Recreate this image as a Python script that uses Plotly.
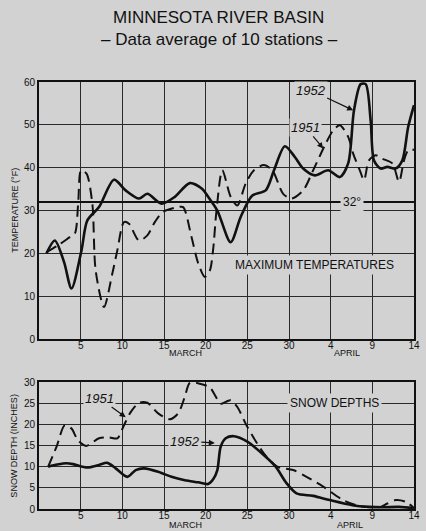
import plotly.graph_objects as go

# ---------------- data ----------------
# x = day counted from 1 March (March 31 = 31, April 4 = 35, April 14 = 45)
temp1952_days = [0.9, 1.9, 3.0, 3.9, 5.1, 5.8, 7.2, 9.0, 10.4, 12.0, 13.0, 14.7, 16.3, 18.1, 19.6, 20.3,
                 21.4, 23.0, 24.2, 25.6, 27.2, 28.2, 29.5, 30.7, 31.7, 33.1, 34.7, 36.1, 37.1, 37.8,
                 38.6, 39.2, 39.8, 40.2, 41.0, 41.8, 42.8, 43.6, 44.3, 45.0]
temp1952 = [20, 23, 18, 11.8, 20.7, 27.7, 30.8, 37.2, 34.7, 32.8, 33.9, 31.6, 33.2, 36.4, 35, 33.2,
            30, 22.6, 28.5, 33.5, 34.7, 39.4, 45, 42.5, 39.8, 38.2, 39.4, 37.8, 41, 53.4,
            59.5, 59.5, 51, 41.7, 39.8, 40.2, 39.8, 41.7, 49.5, 54.6]

temp1951_days = [0.9, 2.3, 3.7, 4.3, 4.7, 5.06, 5.7, 6.4, 6.8, 7.8, 8.8, 9.4, 10.2, 10.8, 12.0, 13.0,
                 13.9, 14.9, 16.7, 17.3, 18.3, 19.1, 19.9, 20.5, 20.9, 21.3, 22.0, 23.0, 23.8, 24.8,
                 25.8, 27.0, 28.0, 29.3, 30.3, 31.7, 32.9, 34.3, 35.3, 36.1, 37.1, 37.7, 38.5, 39.0,
                 39.6, 40.4, 41.2, 42.4, 43.2, 43.8, 44.3, 45.0]
temp1951 = [20.3, 21.9, 23.8, 24.6, 31.6, 39.4, 38.6, 31.6, 16, 7.5, 15.3, 20.7, 27.3, 26.9, 23, 24.2,
            27.3, 29.7, 30.8, 30.8, 23.8, 17.7, 14.5, 16, 21, 30, 39.4, 33.2, 31.2, 36.3,
            39.4, 40.6, 39.4, 33.9, 32.8, 34.7, 39.4, 45.2, 48.7, 49.9, 47.2, 43.3, 39.4, 37.1,
            41.7, 42.9, 42.1, 41, 36.7, 41.7, 44, 44.2]

snow1952_days = [1.1, 2.2, 3.3, 4.1, 5.8, 7.2, 8.2, 9.2, 10.6, 11.6, 12.6, 14.3, 15.9, 17.5, 19.1, 20.3,
                 20.9, 21.4, 21.8, 22.4, 23.4, 25.0, 27.0, 28.4, 29.7, 30.9, 32.9, 34.9, 37.6, 39.6,
                 41.2, 43.2, 45.0]
snow1952 = [10, 10.5, 10.8, 10.6, 9.8, 10.4, 10.9, 9.6, 7.6, 9.2, 9.6, 8.8, 7.6, 6.8, 6.3, 5.9,
            7, 9.2, 14.7, 16.7, 17.2, 15.9, 12.7, 10, 6.1, 3.7, 3.1, 2.1, 0.9, 0.5,
            0.4, 0.5, 0.2]

snow1951_days = [1.1, 2.1, 3.1, 3.9, 4.65, 5.65, 7.2, 8.4, 9.4, 10.2, 11.0, 12.0, 13.0, 14.3, 15.7, 16.7,
                 17.5, 18.1, 19.3, 20.5, 21.8, 22.4, 23.0, 23.8, 25.0, 27.0, 28.6, 30.5, 32.1, 34.1,
                 36.5, 38.4, 40.0, 41.0, 41.8, 42.8, 44.0, 44.9]
snow1951 = [10, 14.7, 19.8, 19, 16.3, 14.9, 16.7, 16.9, 16.7, 19.8, 22.9, 25.1, 25.1, 22.6, 21.2, 22.6,
            26.5, 29.8, 29.6, 28.7, 24.9, 25.3, 25.7, 24.1, 19.4, 13.1, 10, 9.2, 7.6, 5.3,
            2.1, 0.7, 0.4, 0.5, 1.3, 2.1, 1.7, 0.4]

tick_days = [5, 10, 15, 20, 25, 30, 35, 40, 45]
tick_labels = ["5", "10", "15", "20", "25", "30", "4", "9", "14"]
freezing = 32

# ---------------- style ----------------
BG = "#d2d2d2"
INK = "#111111"
FONT = "Liberation Sans"

fig = go.Figure()

def add_line(x, y, xa, ya, dashed):
    fig.add_trace(go.Scatter(
        x=x, y=y, xaxis=xa, yaxis=ya, mode="lines",
        line=dict(color=INK, width=2.0 if dashed else 2.6,
                  dash="11px,6px" if dashed else "solid",
                  shape="spline", smoothing=0.8),
        showlegend=False, hoverinfo="skip"))

add_line(temp1951_days, temp1951, "x", "y", True)
add_line(temp1952_days, temp1952, "x", "y", False)
add_line(snow1951_days, snow1951, "x2", "y2", True)
add_line(snow1952_days, snow1952, "x2", "y2", False)

axis_common = dict(showline=True, linecolor=INK, linewidth=2, mirror=True,
                   showgrid=True, gridcolor="#2a2a2a", gridwidth=1.2, zeroline=False,
                   ticks="", tickfont=dict(family=FONT, size=10, color=INK))

fig.update_layout(
    width=426, height=531,
    margin=dict(l=39, r=6, t=82, b=22),
    paper_bgcolor=BG, plot_bgcolor=BG,
    xaxis=dict(domain=[0, 1], range=[0, 45], tickvals=tick_days, ticktext=tick_labels,
               anchor="y", ticklabelstandoff=-4, **axis_common),
    yaxis=dict(domain=[0.398, 1], range=[0, 60], tickvals=[0, 10, 20, 30, 40, 50, 60],
               anchor="x", **axis_common),
    xaxis2=dict(domain=[0, 1], range=[0, 45], tickvals=tick_days, ticktext=tick_labels,
                anchor="y2", ticklabelstandoff=-4, **axis_common),
    yaxis2=dict(domain=[0, 0.2974], range=[0, 30], tickvals=[0, 5, 10, 15, 20, 25, 30],
                anchor="x2", **axis_common),
)

# 32 degree line
fig.add_shape(type="line", xref="x domain", yref="y", x0=0, x1=1, y0=freezing, y1=freezing,
              line=dict(color=INK, width=2))

ann = []
def text(x, y, t, size, xref="paper", yref="paper", angle=0, bg=None, **kw):
    d = dict(x=x, y=y, xref=xref, yref=yref, text=t, showarrow=False, textangle=angle,
             xanchor="center", yanchor="middle",
             font=dict(family=FONT, size=size, color=INK))
    if bg:
        d.update(bgcolor=bg, borderpad=2)
    d.update(kw)
    ann.append(d)

text(0.4777, 1.152, "MINNESOTA RIVER BASIN", 17)
text(0.4805, 1.1007, "– Data average of 10 stations –", 17)
text(-0.066, 0.699, "TEMPERATURE (°F)", 9, angle=-90)
text(-0.066, 0.149, "SNOW DEPTH (INCHES)", 9, angle=-90)
text(17.6, 0.3653, "MARCH", 9, xref="x")
text(37.0, 0.3653, "APRIL", 9, xref="x")
text(17.6, -0.0375, "MARCH", 9, xref="x2")
text(37.3, -0.0375, "APRIL", 9, xref="x2")
text(33.0, 17.2, "MAXIMUM TEMPERATURES", 12, xref="x", yref="y", bg=BG)
text(37.6, freezing, "32°", 12, xref="x", yref="y", bg=BG)
text(35.4, 25.0, "SNOW DEPTHS", 12, xref="x2", yref="y2", bg=BG)

def arrow(hx, hy, tx, ty, t, xref, yref):
    ann.append(dict(x=hx, y=hy, ax=tx, ay=ty, xref=xref, yref=yref, axref=xref, ayref=yref,
                    text="<i>" + t + "</i>", showarrow=True, arrowhead=2, arrowsize=1,
                    arrowwidth=1.2, arrowcolor=INK, bgcolor=BG, borderpad=1,
                    font=dict(family=FONT, size=13, color=INK)))

arrow(37.7, 53.4, 32.6, 58.1, "1952", "x", "y")
arrow(34.1, 44.5, 32.0, 49.4, "1951", "x", "y")
arrow(10.4, 21.7, 7.2, 26.2, "1951", "x2", "y2")
arrow(21.1, 15.6, 17.5, 16.0, "1952", "x2", "y2")

fig.update_layout(annotations=ann)
fig.write_html("out.html", config={"displayModeBar": False},
               post_script="document.body.style.margin='0';document.body.style.background='" + BG + "';")
